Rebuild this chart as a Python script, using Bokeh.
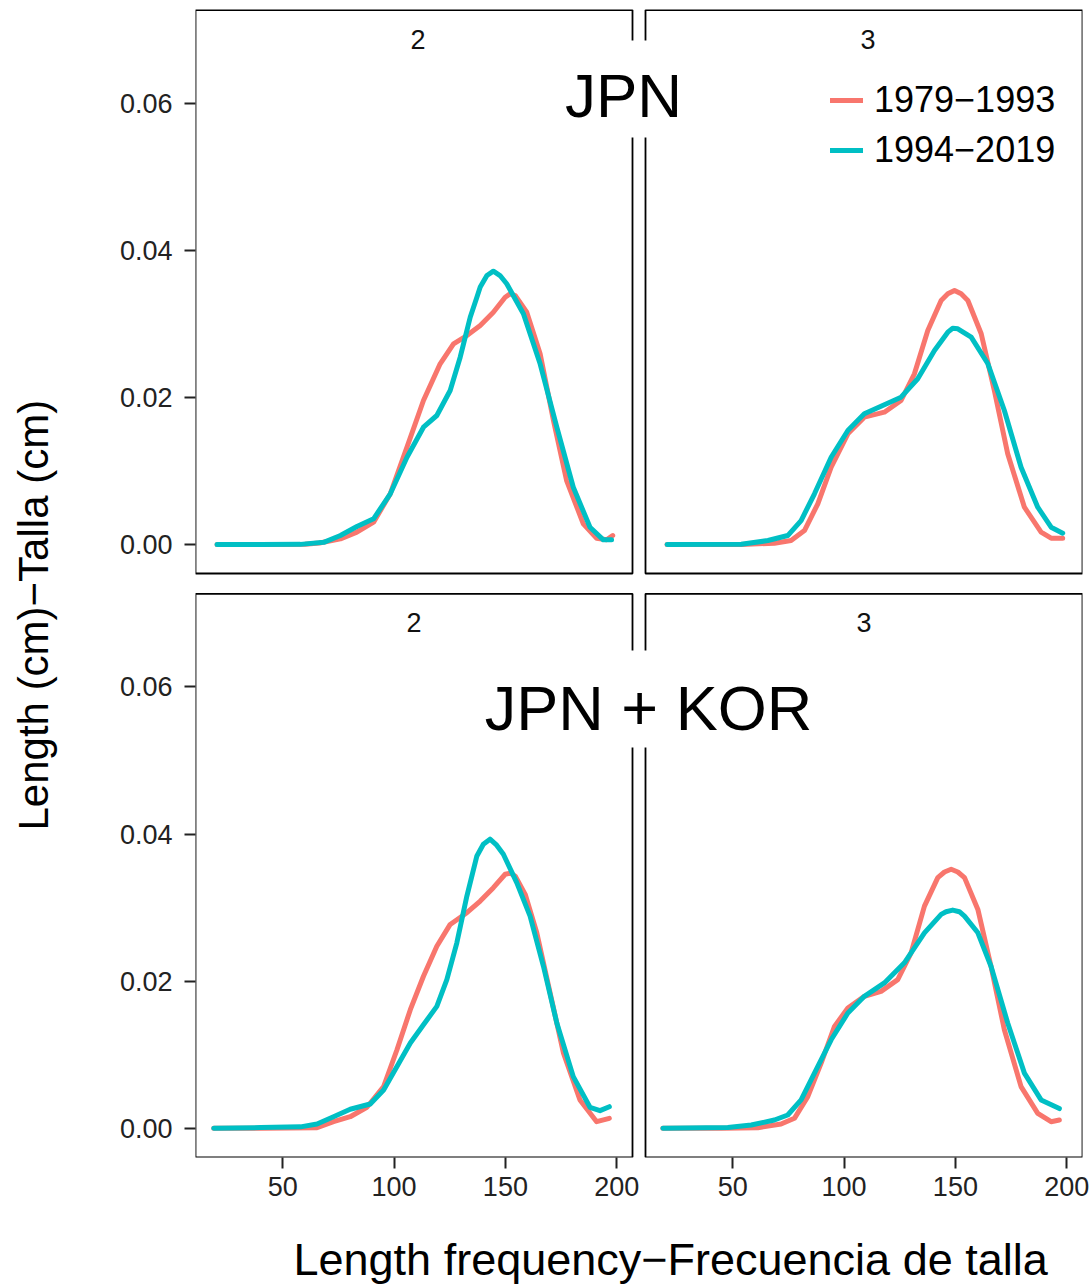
from bokeh.plotting import figure
from bokeh.models import (Range1d, LinearAxis, FixedTicker, CustomJSTickFormatter,
                          Label, Legend, LegendItem, Title)
from bokeh.embed import file_html
from bokeh.resources import INLINE

# ---------------- data ----------------
periods = ["1979\u22121993", "1994\u22122019"]
strip_labels = ["2", "3"]
row_labels = ["JPN", "JPN + KOR"]
x_title = "Length frequency\u2212Frecuencia de talla"
y_title = "Length (cm)\u2212Talla (cm)"
x_ticks = [50, 100, 150, 200]
y_ticks = [0.00, 0.02, 0.04, 0.06]

# JPN, age 2
jpn2_old_x = [20.5, 40, 60, 66.5, 75.9, 83.3, 90.8, 98.3, 105.8, 113.2, 120.7, 126.7, 132.7, 138.7,
              144.6, 149.9, 152.1, 154.4, 159.6, 165.6, 171.6, 177.5, 185.0, 191.0, 195.5, 198.2]
jpn2_old_y = [0, 0, 0.00005, 0.0002, 0.00077, 0.00168, 0.00304, 0.0069, 0.01323, 0.01958, 0.02457,
              0.02729, 0.02841, 0.02977, 0.03158, 0.03362, 0.03408, 0.03385, 0.03158, 0.02593,
              0.01686, 0.0087, 0.00281, 0.00086, 0.00064, 0.00122]
jpn2_new_x = [20.5, 40, 57.9, 68.4, 75.9, 83.3, 90.8, 98.3, 105.8, 113.2, 119.2, 125.2, 129.7, 131.2,
              134.2, 137.2, 138.7, 141.7, 144.6, 147.6, 150.6, 158.1, 165.6, 173.1, 180.5, 188.0,
              194.0, 197.7]
jpn2_new_y = [0, 0, 0.00002, 0.0003, 0.00122, 0.00245, 0.0035, 0.0069, 0.01187, 0.01595, 0.01754,
              0.02094, 0.02547, 0.02729, 0.0309, 0.03362, 0.035, 0.03657, 0.03716, 0.03657,
              0.03545, 0.03137, 0.02457, 0.01595, 0.00779, 0.00235, 0.00064, 0.00064]
# JPN, age 3
jpn3_old_x = [20.5, 53.8, 68.7, 76.2, 82.2, 88.2, 94.2, 101.7, 109.1, 118.1, 125.6, 131.6, 137.6,
              143.6, 146.6, 149.6, 152.6, 155.6, 161.6, 167.5, 173.5, 181.0, 188.5, 193.0, 198.2]
jpn3_old_y = [0, 0, 0.00018, 0.00054, 0.0019, 0.00553, 0.01051, 0.01505, 0.01731, 0.01799, 0.01958,
              0.02321, 0.0291, 0.03318, 0.03408, 0.03454, 0.03408, 0.03318, 0.02865, 0.02094,
              0.01233, 0.00507, 0.00168, 0.00086, 0.00086]
jpn3_new_x = [20.5, 53.8, 65.8, 74.7, 80.7, 86.7, 94.2, 101.7, 109.1, 116.6, 125.6, 133.1, 140.6,
              146.6, 148.8, 151.1, 157.1, 164.6, 172.0, 179.5, 187.0, 193.0, 198.2]
jpn3_new_y = [0, 0.00003, 0.00054, 0.00122, 0.00326, 0.0069, 0.01187, 0.0155, 0.01777, 0.01881,
              0.02003, 0.02253, 0.02638, 0.02887, 0.02940, 0.02933, 0.02819, 0.02457, 0.01822,
              0.01051, 0.00507, 0.00235, 0.00154]
# JPN + KOR, age 2
jk2_old_x = [19.0, 40, 65.4, 72.8, 80.3, 87.8, 95.3, 101.3, 107.3, 113.2, 119.2, 125.2, 132.7, 138.7,
             144.6, 149.9, 152.2, 154.4, 158.9, 164.1, 170.1, 176.1, 183.5, 191.0, 196.7]
jk2_old_y = [0, 0, 0.00009, 0.0009, 0.00158, 0.00286, 0.00567, 0.01068, 0.01613, 0.02067, 0.02476,
             0.02772, 0.02931, 0.0309, 0.03272, 0.03454, 0.03470, 0.0343, 0.03181, 0.02658, 0.0184,
             0.01022, 0.00386, 0.0009, 0.00136]
jk2_new_x = [19.0, 40, 58, 65.4, 72.8, 80.3, 89.3, 95.3, 101.3, 107.3, 113.2, 119.2, 123.7, 128.2,
             132.7, 137.2, 140.1, 143.1, 146.1, 149.1, 155.1, 161.1, 167.1, 173.1, 180.5, 188.0,
             192.5, 196.7]
jk2_new_y = [0, 0.0001, 0.0002, 0.00059, 0.00158, 0.00259, 0.00331, 0.00522, 0.0084, 0.01159,
             0.01408, 0.01658, 0.02022, 0.02522, 0.03158, 0.03703, 0.03862, 0.03931, 0.03849,
             0.03726, 0.0334, 0.02885, 0.02203, 0.01432, 0.00703, 0.00286, 0.0024, 0.00294]
# JPN + KOR, age 3
jk3_old_x = [18.6, 45, 61.3, 71.7, 77.7, 83.7, 89.7, 95.7, 101.7, 109.1, 116.6, 124.1, 130.1, 136.1,
             142.1, 145.1, 148.1, 151.1, 154.1, 160.1, 166.0, 172.0, 179.5, 187.0, 193.0, 196.7]
jk3_old_y = [0, 0, 0.00009, 0.00059, 0.00136, 0.00431, 0.00886, 0.01385, 0.01636, 0.01794, 0.01862,
             0.02022, 0.02386, 0.03021, 0.03408, 0.03485, 0.03522, 0.03485, 0.03408, 0.02976,
             0.02203, 0.0134, 0.00567, 0.00204, 0.0009, 0.00113]
jk3_new_x = [18.6, 47.8, 58.3, 68.7, 74.7, 80.7, 86.7, 94.2, 101.7, 109.1, 118.1, 127.1, 136.1,
             143.6, 145.8, 148.8, 151.8, 154.1, 160.1, 166.0, 173.5, 181.0, 188.5, 196.7]
jk3_new_y = [0, 0.0001, 0.00045, 0.00113, 0.00181, 0.00386, 0.0075, 0.01204, 0.01568, 0.01794,
             0.01977, 0.0225, 0.02658, 0.02908, 0.02945, 0.02967, 0.02945, 0.02885, 0.02658,
             0.02203, 0.01432, 0.0075, 0.00386, 0.00268]

panels = [  # (row, col, old_x, old_y, new_x, new_y)
    (0, 0, jpn2_old_x, jpn2_old_y, jpn2_new_x, jpn2_new_y),
    (0, 1, jpn3_old_x, jpn3_old_y, jpn3_new_x, jpn3_new_y),
    (1, 0, jk2_old_x, jk2_old_y, jk2_new_x, jk2_new_y),
    (1, 1, jk3_old_x, jk3_old_y, jk3_new_x, jk3_new_y),
]

# ---------------- layout / style ----------------
W, H = 1091, 1287
FL, FR, FT, FB = 195, 1082, 9, 1157          # frame (px)
COLS = [195, 645]                             # panel left edges (px)
ROWS = [9.5, 593.3]                           # panel top edges (px)
PW, PH = 437.0, 563.5                         # panel size (px)
XLIM = (10.8, 207.1)
YLIM = (-0.00394, 0.07267)
RED, TEAL = "#F8766D", "#00BFC4"
FONT = "Liberation Sans"


def ext_range(p_lo, p_hi, d_lo, d_hi, f_lo, f_hi):
    s = (d_hi - d_lo) / (p_hi - p_lo)
    start = d_lo - (p_lo - f_lo) * s
    return start, start + (f_hi - f_lo) * s


xr = [ext_range(c, c + PW, XLIM[0], XLIM[1], FL, FR) for c in COLS]
yr = [ext_range(FB - (r + PH), FB - r, YLIM[0], YLIM[1], 0, FB - FT) for r in ROWS]

p = figure(width=W, height=H, output_backend="svg", toolbar_location=None,
           x_range=Range1d(*xr[0]), y_range=Range1d(*yr[0]),
           x_axis_location=None, y_axis_location=None,
           min_border_left=FL, min_border_right=W - FR,
           min_border_top=FT, min_border_bottom=H - FB)
p.extra_x_ranges = {"x1": Range1d(*xr[1])}
p.extra_y_ranges = {"y1": Range1d(*yr[1])}
p.outline_line_color = None
p.grid.visible = False
p.background_fill_color = "white"
p.border_fill_color = "white"

XN = ["default", "x1"]
YN = ["default", "y1"]


def X(px):
    a, b = xr[0]
    return a + (px - FL) * (b - a) / (FR - FL)


def Y(py):
    a, b = yr[0]
    return a + (FB - py) * (b - a) / (FB - FT)


# panel borders
for r in range(2):
    for c in range(2):
        p.quad(left=XLIM[0], right=XLIM[1], bottom=YLIM[0], top=YLIM[1],
               fill_color=None, line_color="black", line_width=1.8,
               x_range_name=XN[c], y_range_name=YN[r])

# white boxes behind the big row labels
p.quad(left=X(557), right=X(690), bottom=Y(137), top=Y(40),
       fill_color="white", line_color=None)
p.quad(left=X(470), right=X(825), bottom=Y(747), top=Y(650),
       fill_color="white", line_color=None)

legend_renderers = None
for (r, c, ox, oy, nx, ny) in panels:
    r1 = p.line(ox, oy, line_color=RED, line_width=5, line_join="round", line_cap="round",
                x_range_name=XN[c], y_range_name=YN[r])
    r2 = p.line(nx, ny, line_color=TEAL, line_width=5, line_join="round", line_cap="round",
                x_range_name=XN[c], y_range_name=YN[r])
    if (r, c) == (0, 1):
        legend_renderers = (r1, r2)

# ---- axes ----
Dx = X(COLS[1]) - X(COLS[0])
Dy = Y(ROWS[1]) - Y(ROWS[0])
xt = list(x_ticks) + [v + Dx for v in x_ticks]
yt = list(y_ticks) + [v + Dy for v in y_ticks]

xaxis = LinearAxis(
    ticker=FixedTicker(ticks=xt),
    formatter=CustomJSTickFormatter(args=dict(B=XLIM[1] + 1, D=Dx),
                                    code="const v = tick > B ? tick - D : tick; return v.toFixed(0);"))
yaxis = LinearAxis(
    ticker=FixedTicker(ticks=yt),
    formatter=CustomJSTickFormatter(args=dict(B=YLIM[0] - 0.0001, D=Dy),
                                    code="let v = tick < B ? tick - D : tick; if (Math.abs(v) < 1e-9) { v = 0; } return v.toFixed(2);"))
for ax in (xaxis, yaxis):
    ax.axis_line_color = None
    ax.major_tick_line_color = "#222222"
    ax.major_tick_line_width = 2
    ax.major_tick_out = 11
    ax.major_tick_in = 0
    ax.minor_tick_line_color = None
    ax.major_label_text_font = FONT
    ax.major_label_text_font_size = "27px"
    ax.major_label_text_color = "#222222"
xaxis.major_label_standoff = 8
yaxis.major_label_standoff = 12
p.add_layout(xaxis, "below")
p.add_layout(yaxis, "left")


def spacer(size, tick):
    # an axis with a single invisible tick and no label, used only to reserve room
    return LinearAxis(ticker=FixedTicker(ticks=[tick]), axis_line_color=None,
                      formatter=CustomJSTickFormatter(code="return '';"),
                      major_tick_out=size, major_tick_in=0, major_label_standoff=0,
                      major_label_text_font_size="1px", major_label_text_alpha=0,
                      major_tick_line_color=None, minor_tick_line_color=None,
                      minor_tick_out=0)


p.add_layout(spacer(35, X(600)), "below")
p.add_layout(spacer(58, Y(300)), "left")

# ---- axis titles ----
p.add_layout(Title(text=x_title, align="left", offset=98, standoff=0, vertical_align="top",
                   text_font=FONT, text_font_size="45px", text_font_style="normal",
                   text_color="black"), "below")
p.add_layout(Title(text=y_title, align="left", offset=327, standoff=0, vertical_align="top",
                   text_font=FONT, text_font_size="42px", text_font_style="normal",
                   text_color="black"), "left")

# ---- strip labels ----
for r in range(2):
    for c in range(2):
        p.add_layout(Label(x=X(COLS[c] + PW / 2 + (4 if r == 0 else 0)), y=Y(ROWS[r] + 29),
                           text=strip_labels[c], text_align="center",
                           text_baseline="alphabetic", text_font=FONT,
                           text_font_size="27px", text_color="#111111"))

# ---- big row labels ----
p.add_layout(Label(x=X(623), y=Y(95), text=row_labels[0], text_align="center",
                   text_baseline="alphabetic", text_font=FONT, text_font_size="62px",
                   text_color="black"))
p.add_layout(Label(x=X(648), y=Y(707), text=row_labels[1], text_align="center",
                   text_baseline="alphabetic", text_font=FONT, text_font_size="63px",
                   text_color="black"))

# ---- legend ----
legend = Legend(items=[LegendItem(label=periods[0], renderers=[legend_renderers[0]]),
                       LegendItem(label=periods[1], renderers=[legend_renderers[1]])],
                location=(830 - FL, FB - (103 - 20) - 88))
legend.border_line_color = None
legend.background_fill_alpha = 0
legend.padding = 0
legend.margin = 0
legend.spacing = 8
legend.glyph_width = 33
legend.glyph_height = 40
legend.label_height = 40
legend.label_standoff = 11
legend.label_text_font = FONT
legend.label_text_font_size = "36px"
legend.label_text_color = "black"
p.add_layout(legend)

open("out.html", "w").write(file_html(p, INLINE))
